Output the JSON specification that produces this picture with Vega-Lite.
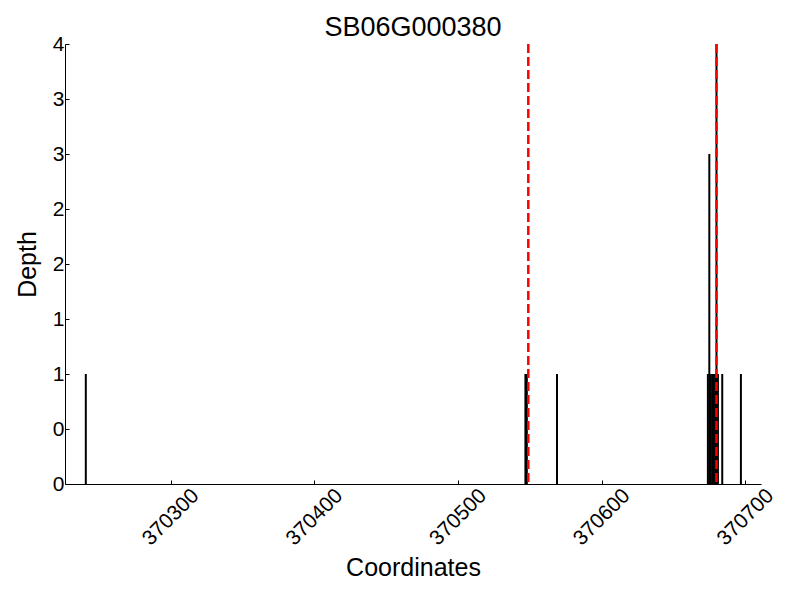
{
  "$schema": "https://vega.github.io/schema/vega-lite/v6.json",
  "width": 696,
  "height": 440,
  "autosize": "none",
  "padding": {"left": 65, "top": 44, "right": 39, "bottom": 116},
  "background": "white",
  "title": {"text": "SB06G000380", "font": "Liberation Sans", "fontSize": 27, "fontWeight": "normal", "color": "black", "offset": -9},
  "config": {"view": {"stroke": null}},
  "datasets": {
    "depth": [
      {"pos": 370241, "depth": 1},
      {"pos": 370547, "depth": 1},
      {"pos": 370548, "depth": 1},
      {"pos": 370569, "depth": 1},
      {"pos": 370674, "depth": 1},
      {"pos": 370675, "depth": 3},
      {"pos": 370676, "depth": 1},
      {"pos": 370677, "depth": 1},
      {"pos": 370678, "depth": 1},
      {"pos": 370679, "depth": 1},
      {"pos": 370680, "depth": 4},
      {"pos": 370681, "depth": 1},
      {"pos": 370684, "depth": 1},
      {"pos": 370697, "depth": 1}
    ],
    "marks": [
      {"pos": 370549},
      {"pos": 370680}
    ]
  },
  "layer": [
    {
      "data": {"name": "depth"},
      "mark": {"type": "bar", "color": "black", "width": 2},
      "encoding": {
        "x": {
          "field": "pos", "type": "quantitative",
          "scale": {"domain": [370230, 370707.5], "nice": false, "zero": false},
          "axis": {
            "title": "Coordinates", "values": [370300, 370400, 370500, 370600, 370700],
            "format": "d", "labelAngle": -45, "labelAlign": "center", "labelBaseline": "middle",
            "labelPadding": 37, "labelFont": "Liberation Sans", "labelFontSize": 21, "labelColor": "black",
            "titleFont": "Liberation Sans", "titleFontSize": 25, "titleFontWeight": "normal", "titleColor": "black",
            "titlePadding": 7,
            "domainColor": "black", "domainWidth": 1, "tickColor": "black", "tickSize": -4, "grid": false
          }
        },
        "y": {
          "field": "depth", "type": "quantitative",
          "scale": {"domain": [0, 4], "nice": false},
          "axis": {
            "title": "Depth", "values": [0, 0.5, 1, 1.5, 2, 2.5, 3, 3.5, 4],
            "labelExpr": "floor(datum.value)",
            "labelPadding": 5, "labelFont": "Liberation Sans", "labelFontSize": 21, "labelColor": "black",
            "titleFont": "Liberation Sans", "titleFontSize": 25, "titleFontWeight": "normal", "titleColor": "black",
            "titlePadding": 12,
            "domainColor": "black", "domainWidth": 1, "tickColor": "black", "tickSize": -4, "grid": false
          }
        }
      }
    },
    {
      "data": {"name": "marks"},
      "mark": {"type": "rule", "color": "#ff0000", "strokeWidth": 2.5, "strokeDash": [9, 4]},
      "encoding": {
        "x": {"field": "pos", "type": "quantitative"}
      }
    }
  ]
}
